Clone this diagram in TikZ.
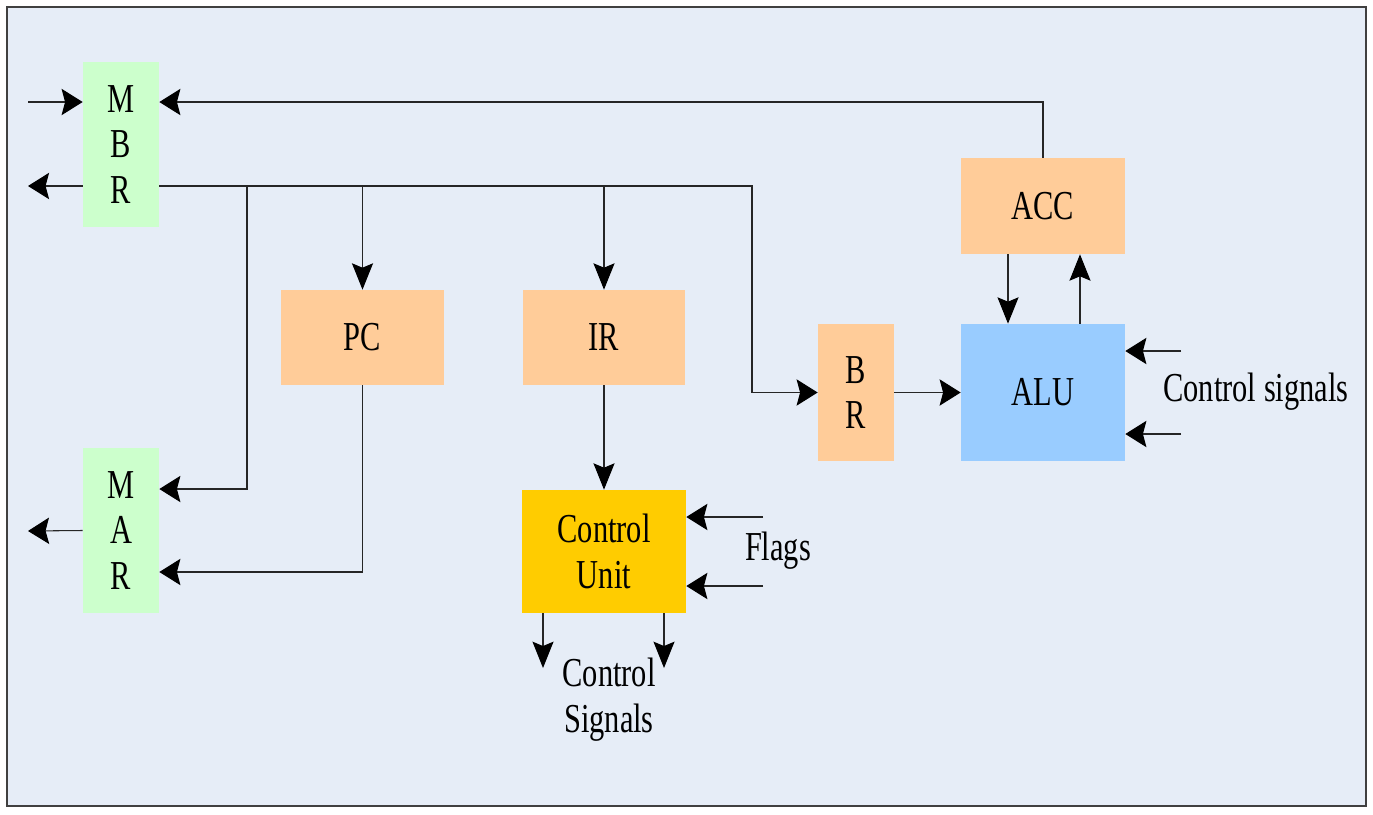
\documentclass[tikz,border=0pt]{standalone}
\usepackage{fontspec}
\setmainfont[FakeStretch=0.74]{Liberation Serif}
\usetikzlibrary{arrows.meta}

\definecolor{bgblue}{RGB}{230,237,247}
\definecolor{regorange}{RGB}{255,204,153}
\definecolor{reggreen}{RGB}{204,255,204}
\definecolor{cuyellow}{RGB}{255,204,0}
\definecolor{alublue}{RGB}{153,204,255}

\tikzset{
  reg/.style={rectangle, inner sep=0pt, align=center, font=\fontsize{23.4}{26}\selectfont},
  wire/.style={draw=black!85, line width=0.6pt},
  hwire/.style={wire, -{Stealth[length=12pt,width=15pt,inset=2pt,black]}},
  vwire/.style={wire, -{Stealth[length=15pt,width=12pt,inset=2.5pt,black]}}
}

\begin{document}
\begin{tikzpicture}[x=0.02cm, y=-0.02cm]

\useasboundingbox (0,0) rectangle (1373,815);
\draw[black!75, line width=0.7pt, fill=bgblue] (7,7) rectangle (1366,806);

\node (MBR) at (121,144.5) [reg, fill=reggreen, minimum width=1.52cm, minimum height=3.3cm] {M\\B\\R};
\node (MAR) at (121,530.5) [reg, fill=reggreen, minimum width=1.52cm, minimum height=3.3cm] {M\\A\\R};
\node (PC) at (362.5,337.5) [reg, fill=regorange, minimum width=3.26cm, minimum height=1.9cm] {PC};
\node (IR) at (604,337.5) [reg, fill=regorange, minimum width=3.26cm, minimum height=1.9cm] {IR};
\node (CU) at (604,551.5) [reg, fill=cuyellow, minimum width=3.28cm, minimum height=2.46cm] {Control\\Unit};
\node (BR) at (856,392.5) [reg, fill=regorange, minimum width=1.52cm, minimum height=2.74cm] {B\\R};
\node (ALU) at (1043,392.5) [reg, fill=alublue, minimum width=3.28cm, minimum height=2.74cm] {ALU};
\node (ACC) at (1043,206) [reg, fill=regorange, minimum width=3.28cm, minimum height=1.92cm] {ACC};

\node (flags) at (778,551) [reg] {Flags};
\node (alusig) at (1256,392) [reg] {Control signals};
\node (cusig) at (609,700) [reg] {Control\\Signals};

\coordinate (memin) at (28,102);
\coordinate (memout) at (28,186);
\coordinate (addrout) at (28,531);
\coordinate (tap) at (247,186);
\coordinate (bus) at (752,186);
\coordinate (flag1) at (763,517);
\coordinate (flag2) at (763,586);
\coordinate (cs1) at (543,668);
\coordinate (cs2) at (664,668);
\coordinate (alu1) at (1181,351);
\coordinate (alu2) at (1181,434);

% memory side
\draw[hwire] (memin) -- (memin -| MBR.west);
\draw[hwire] (memout -| MBR.west) -- (memout);
\draw[hwire] (MAR.west) -- (addrout);
\draw[hwire] (ACC.north) |- ([yshift=0.85cm]MBR.east);

% bus from MBR
\draw[hwire] (memout -| MBR.east) -- (bus) |- (BR.west);
\draw[hwire] (tap) |- ([yshift=0.83cm]MAR.east);
\draw[vwire] (bus -| PC.north) -- (PC.north);
\draw[vwire] (bus -| IR.north) -- (IR.north);
\draw[hwire] (PC.south) |- ([yshift=-0.83cm]MAR.east);

% control unit
\draw[vwire] (IR) -- (CU);
\draw[hwire] (flag1) -- (flag1 -| CU.east);
\draw[hwire] (flag2) -- (flag2 -| CU.east);
\draw[vwire] (cs1 |- CU.south) -- (cs1);
\draw[vwire] (cs2 |- CU.south) -- (cs2);

% ALU
\draw[hwire] (BR) -- (ALU);
\draw[vwire] ([xshift=-0.7cm]ACC.south) -- ([xshift=-0.7cm]ALU.north);
\draw[vwire] ([xshift=0.74cm]ALU.north) -- ([xshift=0.74cm]ACC.south);
\draw[hwire] (alu1) -- (alu1 -| ALU.east);
\draw[hwire] (alu2) -- (alu2 -| ALU.east);

\end{tikzpicture}
\end{document}
